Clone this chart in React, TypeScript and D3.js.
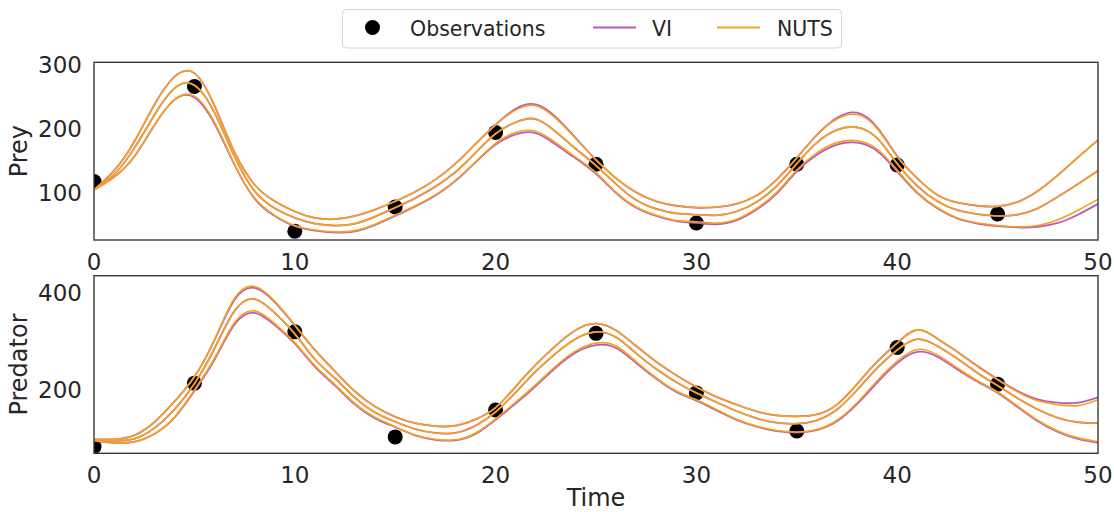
import React from "react";
import * as d3 from "d3";

// ---------- data ----------
const TIME = [0,1,2,3,4,5,6,7,8,9,10,11,12,13,14,15,16,17,18,19,20,21,22,23,24,25,26,27,28,29,30,31,32,33,34,35,36,37,38,39,40,41,42,43,44,45,46,47,48,49,50];
const OBS_TIME = [0, 5, 10, 15, 20, 25, 30, 35, 40, 45];
const PREY_OBS = [117, 266, 39, 77, 194, 144, 52, 144, 143, 66];
const PRED_OBS = [84, 214, 319, 104, 159, 316, 194, 116, 287, 212];

const PREY_NUTS_HI = [104,134,179,237,281,287,236,163,112,86,70,60,58,63,73,86,101,120,145,176,206,229,236,216,184,151,122,100,86,79,76,77,82,95,120,154,190,215,222,200,156,122,96,84,79,78,85,102,127,155,182];
const PREY_NUTS_MID = [104,128,169,221,263,268,225,156,102,75,60,51,48,51,62,76,91,109,132,162,192,210,215,195,168,142,113,88,74,67,65,64,70,85,110,145,178,198,202,185,145,110,86,72,66,63,65,75,93,113,134];
const PREY_NUTS_LO = [104,124,156,205,245,251,210,144,91,64,48,41,38,40,50,64,79,96,119,148,177,194,196,178,155,131,100,77,64,56,54,52,58,75,100,135,162,178,181,168,135,100,76,60,52,48,46,48,57,72,89];

const PREY_VI_HI = [104,134,179,237,281,287,236,163,112,86,70,60,58,63,73,86,101,120,145,176,206,231,238,218,185,151,122,100,86,79,76,77,82,95,120,154,190,217,225,202,157,122,96,84,79,78,85,102,127,155,182];
const PREY_VI_MID = [104,128,169,221,263,268,225,156,102,75,60,51,48,51,62,76,91,109,132,162,192,210,215,195,168,142,113,88,74,67,65,64,70,85,110,145,178,198,202,185,145,110,86,72,66,63,65,75,93,113,134];
const PREY_VI_LO = [104,124,156,205,245,249,208,143,90,63,47,40,37,39,49,63,78,95,118,147,175,191,193,175,153,129,99,76,63,55,52,50,56,73,98,133,159,175,178,165,133,99,75,59,51,47,45,46,52,65,82];

const PRED_NUTS_HI = [99,99,107,134,176,227,303,388,412,382,333,282,238,197,166,145,132,126,127,140,164,207,252,291,323,336,322,290,258,230,206,186,170,156,148,146,150,170,212,258,296,323,305,278,248,221,196,178,170,168,180];
const PRED_NUTS_MID = [97,96,100,122,160,213,285,362,386,358,315,263,224,184,154,135,120,112,112,127,155,195,238,275,305,319,308,275,243,216,194,175,157,142,133,131,138,160,200,245,282,304,290,264,235,209,183,160,143,134,132];
const PRED_NUTS_LO = [96,92,94,110,144,200,265,338,362,336,297,250,211,172,144,125,108,99,98,112,141,175,211,249,280,296,290,258,225,198,180,160,140,126,117,114,119,138,174,219,259,283,272,245,219,196,167,138,116,102,94];

const PRED_VI_HI = [99,99,107,134,176,227,302,385,409,380,332,282,238,197,166,145,132,126,127,140,164,207,252,291,323,336,322,290,258,230,206,186,170,156,148,146,150,170,212,258,296,323,305,278,249,222,198,181,174,174,185];
const PRED_VI_MID = [97,96,100,122,160,213,285,362,386,358,315,263,224,184,154,135,120,112,112,127,155,195,238,275,305,319,308,275,243,216,194,175,157,142,133,131,138,160,200,245,282,304,290,264,235,209,183,160,143,134,132];
const PRED_VI_LO = [96,92,94,110,143,198,262,334,358,333,295,248,209,170,142,124,107,98,97,110,139,172,208,246,277,292,286,255,223,196,178,158,139,125,116,113,118,136,171,215,255,278,268,242,217,194,165,136,114,100,92];

const X_TICKS = [0, 10, 20, 30, 40, 50];
const PREY_TICKS = [100, 200, 300];
const PRED_TICKS = [200, 400];

// ---------- styling ----------
const W = 1114, H = 512;
const LEFT = 94, RIGHT = 1098;
const TEXT = "#262626";
const FRAME = "#3a3a3a";
const VI_COLOR = "#b85cb8";
const NUTS_COLOR = "#f5a31e";
const FONT = "DejaVu Sans";

const panels = [
  { label: "Prey", top: 62.3, bottom: 240, domain: [25.3, 304], ticks: PREY_TICKS, obs: PREY_OBS,
    vi: [PREY_VI_HI, PREY_VI_MID, PREY_VI_LO], nuts: [PREY_NUTS_HI, PREY_NUTS_MID, PREY_NUTS_LO] },
  { label: "Predator", top: 275.7, bottom: 453.3, domain: [70.4, 434], ticks: PRED_TICKS, obs: PRED_OBS,
    vi: [PRED_VI_HI, PRED_VI_MID, PRED_VI_LO], nuts: [PRED_NUTS_HI, PRED_NUTS_MID, PRED_NUTS_LO] },
];

export default function App() {
  const x = d3.scaleLinear().domain([0, 50]).range([LEFT, RIGHT]);
  return (
    <svg width={W} height={H} style={{ position: "absolute", left: 0, top: 0, background: "#fff" }}
      fontFamily={FONT}>
      <rect x={0} y={0} width={W} height={H} fill="#fff" />
      {panels.map((p, pi) => {
        const y = d3.scaleLinear().domain(p.domain).range([p.bottom, p.top]);
        const line = d3.line<number>()
          .x((_, i) => x(TIME[i]))
          .y((d) => y(d))
          .curve(d3.curveNatural);
        const clipId = `clip${pi}`;
        return (
          <g key={p.label}>
            <defs>
              <clipPath id={clipId}>
                <rect x={LEFT} y={p.top} width={RIGHT - LEFT} height={p.bottom - p.top} />
              </clipPath>
            </defs>
            <g clipPath={`url(#${clipId})`}>
              {p.obs.map((v, i) => (
                <circle key={i} cx={x(OBS_TIME[i])} cy={y(v)} r={7.5} fill="#000" />
              ))}
              {p.vi.map((arr, i) => (
                <path key={"vi" + i} d={line(arr) || ""} fill="none" stroke={VI_COLOR} strokeWidth={1.8} />
              ))}
              {p.nuts.map((arr, i) => (
                <path key={"nu" + i} d={line(arr) || ""} fill="none" stroke={NUTS_COLOR} strokeWidth={1.6} />
              ))}
            </g>
            <rect x={LEFT} y={p.top} width={RIGHT - LEFT} height={p.bottom - p.top}
              fill="none" stroke={FRAME} strokeWidth={1.4} />
            {p.ticks.map((t) => (
              <text key={t} x={82} y={y(t)} dy="0.36em" textAnchor="end" fontSize={23} fill={TEXT}>{t}</text>
            ))}
            {X_TICKS.map((t) => (
              <text key={t} x={x(t)} y={p.bottom + 30} textAnchor="middle" fontSize={23} fill={TEXT}>{t}</text>
            ))}
            <text transform={`translate(27,${(p.top + p.bottom) / 2}) rotate(-90)`} textAnchor="middle"
              fontSize={24} fill={TEXT}>{p.label}</text>
          </g>
        );
      })}
      <text x={(LEFT + RIGHT) / 2} y={506} textAnchor="middle" fontSize={24} fill={TEXT}>Time</text>

      {/* legend */}
      <g>
        <rect x={342.5} y={9.5} width={499} height={38.5} rx={4} fill="#fff" stroke="#d4d4d4" strokeWidth={1} />
        <circle cx={372.5} cy={27.5} r={7.5} fill="#000" />
        <text x={410} y={35.5} fontSize={20.5} fill={TEXT}>Observations</text>
        <line x1={593} x2={636} y1={27.5} y2={27.5} stroke={VI_COLOR} strokeWidth={1.8} />
        <text x={652} y={35.5} fontSize={20.5} fill={TEXT}>VI</text>
        <line x1={717} x2={760} y1={27.5} y2={27.5} stroke={NUTS_COLOR} strokeWidth={1.8} />
        <text x={777} y={35.5} fontSize={20.5} fill={TEXT}>NUTS</text>
      </g>
    </svg>
  );
}
